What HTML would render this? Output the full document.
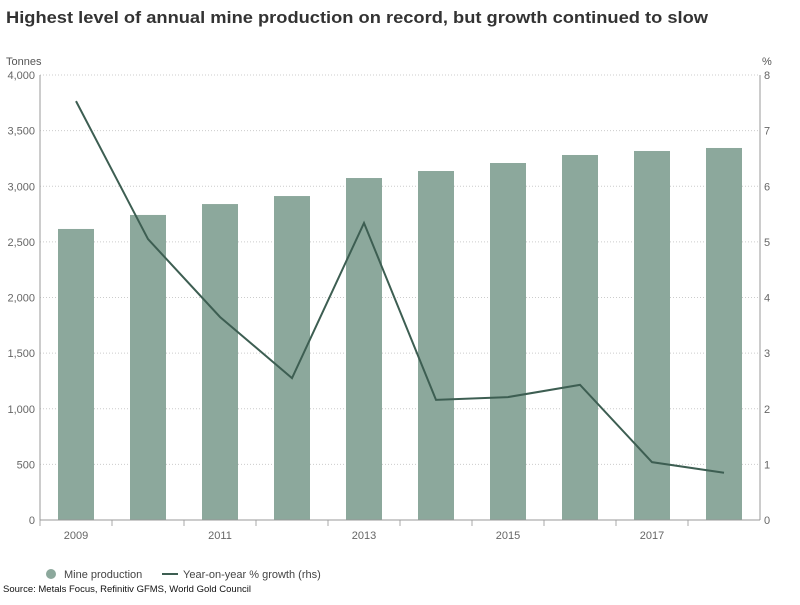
<!DOCTYPE html>
<html><head><meta charset="utf-8"><style>
body{margin:0;background:#fff;font-family:"Liberation Sans",sans-serif;}
svg text{font-family:"Liberation Sans",sans-serif;}
</style></head><body>
<svg width="800" height="600">
<text x="6" y="23" font-size="17" font-weight="bold" fill="#333" textLength="702" lengthAdjust="spacingAndGlyphs">Highest level of annual mine production on record, but growth continued to slow</text>
<text x="6" y="65" font-size="11" fill="#555">Tonnes</text>
<text x="762" y="65" font-size="11" fill="#555">%</text>
<g id="grid"></g><g id="bars"></g><g id="axes"></g><g id="line"></g>
<circle cx="51" cy="574" r="5" fill="#8ca89c"/>
<text x="64" y="578" font-size="11" fill="#444">Mine production</text>
<line x1="162" y1="574" x2="178" y2="574" stroke="#3d5e52" stroke-width="2"/>
<text x="183" y="578" font-size="11" fill="#444">Year-on-year % growth (rhs)</text>
<text x="3" y="592" font-size="9.5" fill="#111">Source: Metals Focus, Refinitiv GFMS, World Gold Council</text>
</svg>
<script>
const years=["2009","2010","2011","2012","2013","2014","2015","2016","2017","2018"];
const production=[2616,2742,2840,2912,3074,3137,3209,3281,3317,3344];
const growth=[7.53,5.05,3.65,2.55,5.34,2.16,2.21,2.43,1.04,0.85];
const leftTicks=[0,500,1000,1500,2000,2500,3000,3500,4000];
const rightTicks=[0,1,2,3,4,5,6,7,8];
const NS="http://www.w3.org/2000/svg";
const X0=40,X1=760,Y0=520,Y1=75,step=(X1-X0)/years.length;
const yL=v=>Y0-(v/4000)*(Y0-Y1), yR=v=>Y0-(v/8)*(Y0-Y1), xC=i=>X0+step*(i+0.5);
function mk(t,a,p){const e=document.createElementNS(NS,t);for(const k in a)e.setAttribute(k,a[k]);document.getElementById(p).appendChild(e);return e;}
leftTicks.forEach((v,i)=>{
 if(v>0){const g=mk('line',{x1:X0,x2:X1,y1:yL(v),y2:yL(v),stroke:'#ccc','stroke-dasharray':'1,2'},'grid');
 
 }
 const t=mk('text',{x:35,y:yL(v)+4,'font-size':11,fill:'#666','text-anchor':'end'},'axes');t.textContent=v.toLocaleString('en-US');
 
 
});
rightTicks.forEach(v=>{
 const t=mk('text',{x:764,y:yR(v)+4,'font-size':11,fill:'#666'},'axes');t.textContent=v;
 
 
});
years.forEach((y,i)=>{
 const b=mk('rect',{x:xC(i)-18,y:yL(production[i]),width:36,height:Y0-yL(production[i]),fill:'#8ca89c'},'bars');
 
 
 const tk=mk('line',{x1:X0+step*i,x2:X0+step*i,y1:Y0,y2:Y0+6,stroke:'#aaa'},'axes');
 
 
 if(i%2==0){const t=mk('text',{x:xC(i),y:539,'font-size':11,fill:'#666','text-anchor':'middle'},'axes');t.textContent=y;
 
 }
});
[[X0,Y1,X0,Y0],[X1,Y1,X1,Y0],[X0,Y0,X1,Y0]].forEach(c=>{const l=mk('line',{x1:c[0],y1:c[1],x2:c[2],y2:c[3],stroke:'#999'},'axes');
 
 });
const p=mk('polyline',{points:growth.map((v,i)=>xC(i)+','+yR(v)).join(' '),fill:'none',stroke:'#3d5e52','stroke-width':2},'line');


</script>
</body></html>
